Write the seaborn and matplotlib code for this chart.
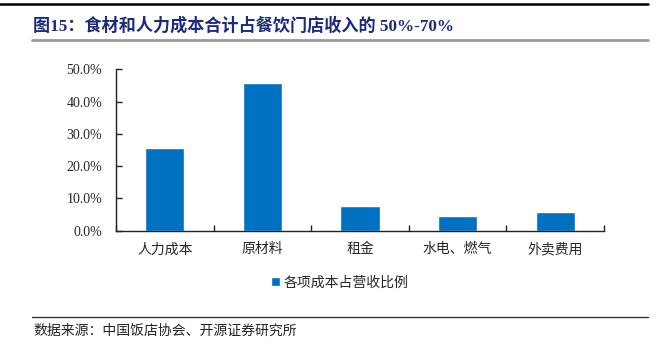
import seaborn as sns
import matplotlib.pyplot as plt
import matplotlib.ticker as mtick
import pandas as pd

categories = ["人力成本", "原材料", "租金", "水电、燃气", "外卖费用"]
shares = [0.255, 0.459, 0.077, 0.045, 0.057]
series_name = "各项成本占营收比例"

df = pd.DataFrame({"cat": categories, "share": shares, "series": series_name})

sns.set_style("white")
plt.rcParams['font.family'] = ['Liberation Serif', 'Noto Sans CJK SC']

fig = plt.figure(figsize=(6.59, 3.55), dpi=100)
ax = fig.add_axes([116 / 659, 1 - 230.7 / 355, (604 - 116) / 659, (230.7 - 69.3) / 355])

sns.barplot(data=df, x="cat", y="share", hue="series", palette=["#0070C0"],
            width=0.4, ax=ax, saturation=1)

ax.set_ylim(0, 0.5)
ax.set_xlim(-0.5, 4.5)
ax.yaxis.set_major_formatter(mtick.PercentFormatter(1.0, decimals=1))
ax.set_yticks([0, 0.1, 0.2, 0.3, 0.4, 0.5])
ax.set_xlabel("")
ax.set_ylabel("")
for s in ["top", "right"]:
    ax.spines[s].set_visible(False)
for s in ["left", "bottom"]:
    ax.spines[s].set_color("#222222")
    ax.spines[s].set_linewidth(1)
ax.tick_params(axis="y", direction="in", length=4, width=1, color="#222222",
               labelsize=10, pad=10, left=True)
ax.tick_params(axis="x", which="major", length=0, labelsize=10, pad=9)
ax.set_xticks([-0.5, 0.5, 1.5, 2.5, 3.5, 4.5], minor=True)
ax.tick_params(axis="x", which="minor", direction="in", length=4, width=1,
               color="#222222", bottom=True)

sns.move_legend(ax, "center", bbox_to_anchor=(0.516, 0.203),
                bbox_transform=fig.transFigure, frameon=False, title=None,
                fontsize=10, handlelength=0.6, handleheight=0.6, handletextpad=0.3)

# header / title / footer
fig.add_artist(plt.Line2D([0, 648 / 659], [1 - 3.5 / 355] * 2, color="black", lw=1.8))
fig.text(33 / 659, 1 - 26 / 355, "图15：食材和人力成本合计占餐饮门店收入的 50%-70%",
         fontsize=12.3, fontweight="bold", color="#1c2a78", va="center", ha="left")
fig.add_artist(plt.Line2D([32 / 659, 648 / 659], [1 - 39.5 / 355] * 2, color="#999999", lw=2))
fig.add_artist(plt.Line2D([32 / 659, 648 / 659], [1 - 316.7 / 355] * 2, color="#333333", lw=1))
fig.text(33 / 659, 1 - 330.7 / 355, "数据来源：中国饭店协会、开源证券研究所",
         fontsize=10, color="#222222", va="center", ha="left")

fig.savefig("out.png", dpi=100)
